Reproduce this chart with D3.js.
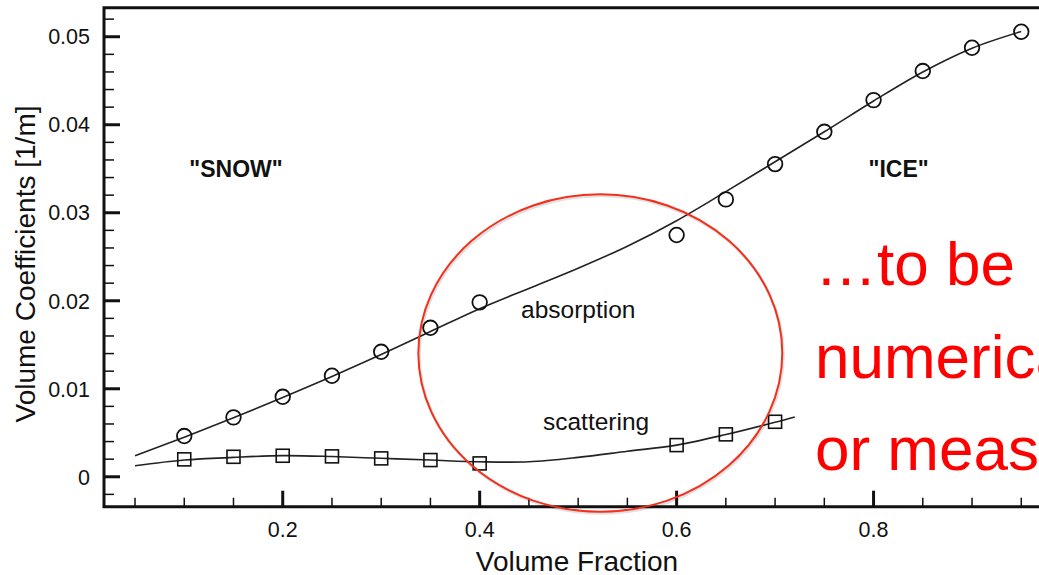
<!DOCTYPE html>
<html>
<head>
<meta charset="utf-8">
<script src="https://cdn.jsdelivr.net/npm/d3@7"></script>
<style>
  body { margin: 0; background: #fff; }
  text { font-family: "Liberation Sans", Arial, Helvetica, sans-serif; }
</style>
</head>
<body>
<div id="canvas"></div>
<script>
// measured points (volume fraction -> coefficient)
var absX = [0.1, 0.15, 0.2, 0.25, 0.3, 0.35, 0.4, 0.6, 0.65, 0.7, 0.75, 0.8, 0.85, 0.9, 0.95];
var absY = [0.00463, 0.00675, 0.00909, 0.01148, 0.0142, 0.01693, 0.01982, 0.02747, 0.03152, 0.03553, 0.0392, 0.0428, 0.0461, 0.04875, 0.05057];
var scatX = [0.1, 0.15, 0.2, 0.25, 0.3, 0.35, 0.4, 0.6, 0.65, 0.7];
var scatY = [0.00198, 0.00227, 0.00239, 0.00232, 0.00209, 0.0019, 0.00152, 0.0036, 0.00482, 0.00625];

// fitted curves
var absFitX = [0.05, 0.1, 0.15, 0.2, 0.25, 0.3, 0.35, 0.4, 0.45, 0.5, 0.55, 0.6, 0.65, 0.7, 0.75, 0.8, 0.85, 0.9, 0.95];
var absFitY = [0.0024, 0.0045, 0.0067, 0.009, 0.0114, 0.0139, 0.0165, 0.0191, 0.0214, 0.0237, 0.0262, 0.0291, 0.0324, 0.0358, 0.0392, 0.0427, 0.046, 0.0487, 0.0506];
var scatFitX = [0.05, 0.1, 0.15, 0.2, 0.25, 0.3, 0.35, 0.4, 0.45, 0.5, 0.55, 0.6, 0.65, 0.7, 0.72];
var scatFitY = [0.00125, 0.0019, 0.0022, 0.0024, 0.0023, 0.0021, 0.0019, 0.0017, 0.0017, 0.0022, 0.0029, 0.0036, 0.0048, 0.0062, 0.0068];

var xTicks = [0.2, 0.4, 0.6, 0.8, 1.0];
var yTicks = [0, 0.01, 0.02, 0.03, 0.04, 0.05];
var yTickLabels = ['0', '0.01', '0.02', '0.03', '0.04', '0.05'];

var W = 1039, H = 575;
var svg = d3.select('#canvas').append('svg')
    .attr('width', W).attr('height', H);

// scales: plot area runs past the right edge of the picture
var x = d3.scaleLinear().domain([0.0185, 1.0]).range([104, 1070.5]);
var y = d3.scaleLinear().domain([-0.0034, 0.0533]).range([506.7, 7.7]);

// minor ticks first, then major ones
var xMinor = d3.range(0.05, 1.0, 0.05).filter(function (v) { return Math.abs(v * 5 - Math.round(v * 5)) > 1e-6; });
var yMinor = d3.range(-0.002, 0.0533, 0.002).filter(function (v) { return Math.abs(v * 100 - Math.round(v * 100)) > 1e-6; });

var ax = svg.append('g').attr('stroke', '#111');
ax.selectAll('line.xm').data(xMinor).enter().append('line')
    .attr('x1', function (d) { return x(d); }).attr('x2', function (d) { return x(d); })
    .attr('y1', y.range()[0]).attr('y2', y.range()[0] - 9)
    .attr('stroke-width', 1.5);
ax.selectAll('line.xM').data(xTicks).enter().append('line')
    .attr('x1', function (d) { return x(d); }).attr('x2', function (d) { return x(d); })
    .attr('y1', y.range()[0]).attr('y2', y.range()[0] - 16)
    .attr('stroke-width', 3);
ax.selectAll('line.ym').data(yMinor).enter().append('line')
    .attr('x1', x.range()[0]).attr('x2', x.range()[0] + 10)
    .attr('y1', function (d) { return y(d); }).attr('y2', function (d) { return y(d); })
    .attr('stroke-width', 1.5);
ax.selectAll('line.yM').data(yTicks).enter().append('line')
    .attr('x1', x.range()[0]).attr('x2', x.range()[0] + 16)
    .attr('y1', function (d) { return y(d); }).attr('y2', function (d) { return y(d); })
    .attr('stroke-width', 3);

// frame: left, bottom, top
ax.append('path')
    .attr('d', 'M' + W + ',' + y.range()[1] + 'H' + x.range()[0] + 'V' + y.range()[0] + 'H' + W)
    .attr('fill', 'none').attr('stroke-width', 3);

// tick labels
svg.selectAll('text.yl').data(yTicks).enter().append('text')
    .attr('x', 90).attr('y', function (d) { return y(d); })
    .attr('dy', '0.36em').attr('text-anchor', 'end')
    .attr('font-size', 21.5).attr('fill', '#111')
    .text(function (d, i) { return yTickLabels[i]; });
svg.selectAll('text.xl').data(xTicks).enter().append('text')
    .attr('x', function (d) { return x(d); }).attr('y', 536.5)
    .attr('text-anchor', 'middle')
    .attr('font-size', 21.5).attr('fill', '#111')
    .text(function (d) { return d.toFixed(1); });

// axis titles
svg.append('text').attr('x', 577).attr('y', 571)
    .attr('text-anchor', 'middle').attr('font-size', 28).attr('fill', '#111')
    .text('Volume Fraction');
svg.append('text').attr('transform', 'translate(35,264) rotate(-90)')
    .attr('text-anchor', 'middle').attr('font-size', 28).attr('fill', '#111')
    .text('Volume Coefficients [1/m]');

// curves
var line = d3.line().curve(d3.curveCatmullRom)
    .x(function (d) { return x(d[0]); }).y(function (d) { return y(d[1]); });
svg.append('path').datum(d3.zip(absFitX, absFitY))
    .attr('d', line).attr('fill', 'none').attr('stroke', '#222').attr('stroke-width', 1.6);
svg.append('path').datum(d3.zip(scatFitX, scatFitY))
    .attr('d', line).attr('fill', 'none').attr('stroke', '#222').attr('stroke-width', 1.6);

// markers
svg.selectAll('circle.abs').data(d3.zip(absX, absY)).enter().append('circle')
    .attr('cx', function (d) { return x(d[0]); }).attr('cy', function (d) { return y(d[1]); })
    .attr('r', 7.3).attr('fill', 'none').attr('stroke', '#111').attr('stroke-width', 1.8);
svg.selectAll('rect.scat').data(d3.zip(scatX, scatY)).enter().append('rect')
    .attr('x', function (d) { return x(d[0]) - 6.5; }).attr('y', function (d) { return y(d[1]) - 6.5; })
    .attr('width', 13).attr('height', 13)
    .attr('fill', 'none').attr('stroke', '#111').attr('stroke-width', 1.6);

// annotations, placed in data units
var regionLabels = [['"SNOW"', 0.1526, 0.03406], ['"ICE"', 0.8254, 0.03406]];
svg.selectAll('text.reg').data(regionLabels).enter().append('text')
    .attr('x', function (d) { return x(d[1]); }).attr('y', function (d) { return y(d[2]); })
    .attr('text-anchor', 'middle').attr('font-size', 23).attr('font-weight', 'bold')
    .attr('fill', '#111').text(function (d) { return d[0]; });

var curveLabels = [['absorption', 0.442, 0.018], ['scattering', 0.4643, 0.00531]];
svg.selectAll('text.cl').data(curveLabels).enter().append('text')
    .attr('x', function (d) { return x(d[1]); }).attr('y', function (d) { return y(d[2]); })
    .attr('font-size', 24.5).attr('fill', '#111').text(function (d) { return d[0]; });

// red ellipse highlight
var ring = { cx: 0.5225, cy: 0.01406, rx: 0.1848, ry: 0.01803 };
svg.append('ellipse')
    .attr('cx', x(ring.cx) + 1).attr('cy', y(ring.cy) + 1.5)
    .attr('rx', x(ring.cx + ring.rx) - x(ring.cx)).attr('ry', y(0) - y(ring.ry))
    .attr('fill', 'none').attr('stroke', '#000').attr('stroke-opacity', 0.12).attr('stroke-width', 3);
svg.append('ellipse')
    .attr('cx', x(ring.cx)).attr('cy', y(ring.cy))
    .attr('rx', x(ring.cx + ring.rx) - x(ring.cx)).attr('ry', y(0) - y(ring.ry))
    .attr('fill', 'none').attr('stroke', '#f2301b').attr('stroke-width', 2);

// red slide text, cut by the right edge as in the slide
var note = ['\u2026to be', 'numerically', 'or measured'];
svg.selectAll('text.note').data(note).enter().append('text')
    .attr('x', 815).attr('y', function (d, i) { return 285 + i * 92.5; })
    .attr('font-size', 62).attr('fill', '#ff0000')
    .text(function (d) { return d; });
</script>
</body>
</html>
